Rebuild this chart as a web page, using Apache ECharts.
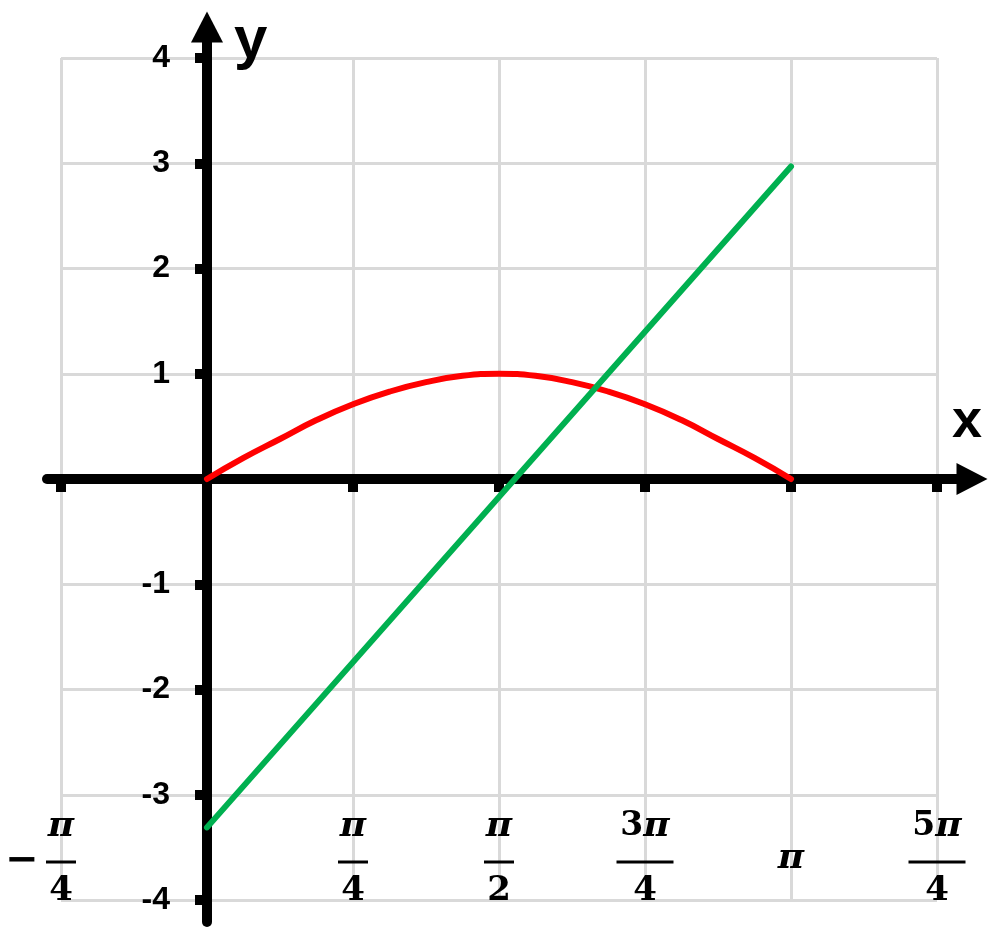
<!DOCTYPE html>
<html><head><meta charset="utf-8">
<script src="https://cdn.jsdelivr.net/npm/echarts@6/dist/echarts.min.js"></script>
<style>html,body{margin:0;padding:0;background:#fff}#c{width:1000px;height:935px}</style>
</head><body><div id="c"></div>
<script>
// x values are in units of pi/4
const xTicks = [-1, 0, 1, 2, 3, 4, 5];
const xTickLabels = ['-π/4', '', 'π/4', 'π/2', '3π/4', 'π', '5π/4'];
const yTickLabels = ['-4', '-3', '-2', '-1', '', '1', '2', '3', '4'];
const sinX = [0, 0.25, 0.5, 0.75, 1, 1.25, 1.5, 1.75, 2, 2.25, 2.5, 2.75, 3, 3.25, 3.5, 3.75, 4];
const sinY = [0, 0.2, 0.38, 0.56, 0.71, 0.83, 0.92, 0.98, 1.0, 0.98, 0.92, 0.83, 0.71, 0.56, 0.38, 0.2, 0];
const lineX = [0, 4];
const lineY = [-3.31, 2.97];

const GRID_COLOR = '#d9d9d9';
const SERIF = 'DejaVu Serif';
const SANS = 'Liberation Sans';

function fracLabel(value) {
  const i = xTicks.indexOf(Math.round(value));
  const s = i < 0 ? '' : xTickLabels[i];
  if (!s) return '';
  const neg = s[0] === '-';
  const t = neg ? s.slice(1) : s;
  const parts = t.split('/');
  const num = parts[0], den = parts[1];
  if (!den) return '{s|π}';
  const coef = num.replace('π', '');
  const numStr = (coef ? '{c|' + coef + '}' : '') + '{p|π}';
  const bar = coef ? 'b2' : 'b1';
  const pad = neg ? '{e| }' : '';
  const lead = neg ? '{m|−}' : '';
  return pad + numStr + pad + '\n' + lead + '{' + bar + '| }' + pad + '\n' + pad + '{d|' + den + '}' + pad;
}

const rich = {
  e: { width: 48, fontSize: 10, lineHeight: 10, align: 'center' },
  m: { width: 48, fontFamily: SERIF, fontSize: 40, fontWeight: 'bold', lineHeight: 20, align: 'center', color: '#000' },
  c: { fontFamily: SERIF, fontSize: 33, fontWeight: 'bold', lineHeight: 51, align: 'center', color: '#000' },
  p: { fontFamily: SERIF, fontSize: 36, fontWeight: 'bold', fontStyle: 'italic', lineHeight: 51, align: 'center', color: '#000' },
  b1: { width: 30, height: 3, backgroundColor: '#000', lineHeight: 20, fontSize: 10, align: 'center' },
  b2: { width: 57, height: 3, backgroundColor: '#000', lineHeight: 20, fontSize: 10, align: 'center' },
  d: { fontFamily: SERIF, fontSize: 34, fontWeight: 'bold', lineHeight: 38, align: 'center', color: '#000' },
  s: { fontFamily: SERIF, fontSize: 36, fontWeight: 'bold', fontStyle: 'italic', lineHeight: 40, align: 'center', color: '#000', padding: [7, 0, 0, 0] }
};

const chart = echarts.init(document.getElementById('c'), null, { renderer: 'canvas' });
const option = {
  animation: false,
  backgroundColor: '#fff',
  grid: [
    { left: 61, right: 63, top: 58, bottom: 35, containLabel: false, outerBoundsMode: 'none' },
    { left: 47, right: 28, top: 58, bottom: 35, containLabel: false, outerBoundsMode: 'none' },
    { left: 61, right: 63, top: 27, bottom: 13, containLabel: false, outerBoundsMode: 'none' }
  ],
  xAxis: [
    {
      gridIndex: 0, type: 'value', min: -1, max: 5, interval: 1,
      axisLine: { show: true, onZero: true, lineStyle: { color: '#000', width: 10 } },
      axisTick: { show: true, length: 13, lineStyle: { color: '#000', width: 10 } },
      axisLabel: { show: false },
      splitLine: { show: true, showMinLine: true, showMaxLine: true, lineStyle: { color: GRID_COLOR, width: 3 } },
      name: 'x', nameLocation: 'end', nameGap: 15, nameMoveOverlap: false,
      nameTextStyle: { fontFamily: SANS, fontWeight: 'bold', fontSize: 54, lineHeight: 54, color: '#000', align: 'left', verticalAlign: 'bottom', padding: [0, 0, 30, 0] }
    },
    {
      gridIndex: 0, type: 'value', min: -1, max: 5, interval: 1, position: 'bottom',
      axisLine: { show: false, onZero: false }, axisTick: { show: false }, splitLine: { show: false },
      axisLabel: { show: true, margin: -44.5, verticalAlign: 'middle', showMinLabel: true, showMaxLabel: true, formatter: fracLabel, rich: rich }
    },
    {
      gridIndex: 1, type: 'value', min: -1, max: 5, interval: 1,
      axisLine: { show: true, onZero: true, symbol: ['none', 'triangle'], symbolSize: [32, 31], lineStyle: { color: '#000', width: 10 } },
      axisTick: { show: false }, axisLabel: { show: false }, splitLine: { show: false }
    },
    {
      gridIndex: 2, type: 'value', min: -1, max: 5, interval: 1, show: false
    }
  ],
  yAxis: [
    {
      gridIndex: 0, type: 'value', min: -4, max: 4, interval: 1,
      axisLine: { show: true, onZero: true, lineStyle: { color: '#000', width: 10 } },
      axisTick: { show: true, length: 12, lineStyle: { color: '#000', width: 10 } },
      axisLabel: { show: true, margin: -109, fontFamily: SANS, fontWeight: 'bold', fontSize: 32, color: '#000',
        formatter: function (v) { return yTickLabels[Math.round(v) + 4] || ''; } },
      splitLine: { show: true, showMinLine: true, showMaxLine: true, lineStyle: { color: GRID_COLOR, width: 3 } },
      name: 'y', nameLocation: 'end', nameGap: 17, nameMoveOverlap: false,
      nameTextStyle: { fontFamily: SANS, fontWeight: 'bold', fontSize: 60, color: '#000', align: 'left', verticalAlign: 'middle', padding: [0, 0, 0, 27] }
    },
    { gridIndex: 1, type: 'value', min: -4, max: 4, interval: 1, show: false },
    {
      gridIndex: 2, type: 'value', min: -4, max: 4, interval: 1,
      axisLine: { show: true, onZero: true, symbol: ['none', 'triangle'], symbolSize: [32, 31], lineStyle: { color: '#000', width: 10 } },
      axisTick: { show: false }, axisLabel: { show: false }, splitLine: { show: false }
    }
  ],
  series: [
    {
      type: 'line', xAxisIndex: 0, yAxisIndex: 0, z: 5,
      data: sinX.map(function (x, i) { return [x, sinY[i]]; }),
      smooth: true, symbol: 'none',
      lineStyle: { color: '#ff0000', width: 6, cap: 'round' }
    },
    {
      type: 'line', xAxisIndex: 0, yAxisIndex: 0, z: 5,
      data: lineX.map(function (x, i) { return [x, lineY[i]]; }),
      symbol: 'none',
      lineStyle: { color: '#00b050', width: 6, cap: 'round' }
    }
  ]
};
chart.setOption(option);
</script>
</body></html>
